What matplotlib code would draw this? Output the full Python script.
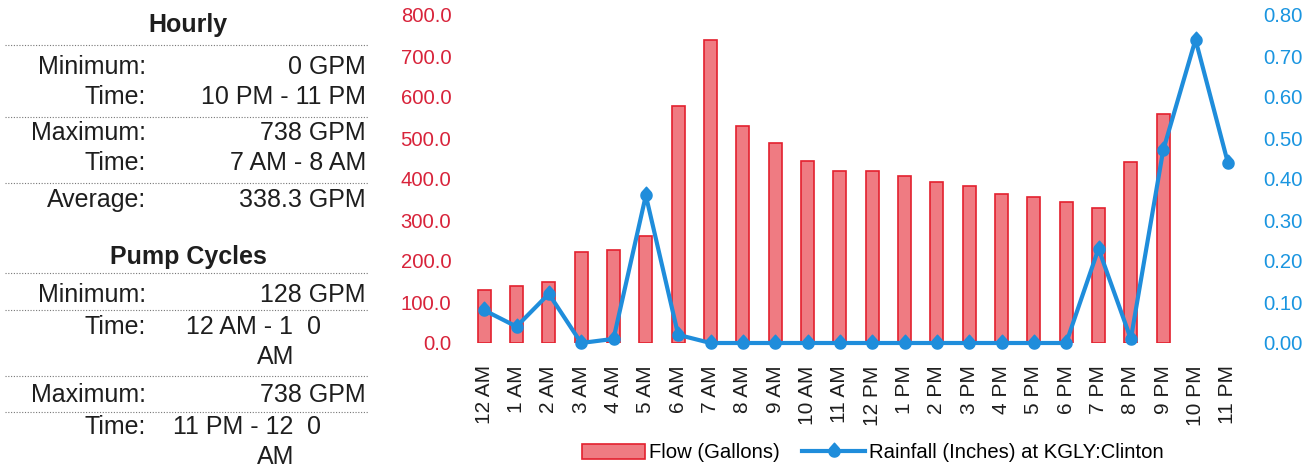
import matplotlib
matplotlib.use("Agg")
import matplotlib.pyplot as plt
from matplotlib.path import Path
import numpy as np

plt.rcParams['font.family'] = ['Liberation Sans', 'DejaVu Sans']

hours = ["12 AM", "1 AM", "2 AM", "3 AM", "4 AM", "5 AM", "6 AM", "7 AM", "8 AM",
         "9 AM", "10 AM", "11 AM", "12 PM", "1 PM", "2 PM", "3 PM", "4 PM", "5 PM",
         "6 PM", "7 PM", "8 PM", "9 PM", "10 PM", "11 PM"]
flow = [130, 140, 148, 222, 228, 262, 578, 740, 530, 488, 445, 420,
        420, 408, 392, 382, 363, 357, 343, 330, 442, 558, 0, 0]
rain = [0.08, 0.04, 0.12, 0.00, 0.01, 0.36, 0.02, 0.00, 0.00, 0.00, 0.00, 0.00,
        0.00, 0.00, 0.00, 0.00, 0.00, 0.00, 0.00, 0.23, 0.01, 0.47, 0.74, 0.44]
left_ticks = [0, 100, 200, 300, 400, 500, 600, 700, 800]
right_ticks = [0.0, 0.1, 0.2, 0.3, 0.4, 0.5, 0.6, 0.7, 0.8]

hourly_rows = [("Minimum:", "0 GPM"), ("Time:", "10 PM - 11 PM"),
               ("Maximum:", "738 GPM"), ("Time:", "7 AM - 8 AM"),
               ("Average:", "338.3 GPM")]

RED_TXT = '#d8233a'
BLUE_TXT = '#1a95e0'
BAR_FACE = '#ef7b82'
BAR_EDGE = '#e3202e'
LINE_C = '#1f8ddb'
TXT = '#1e1e1e'

W, H = 1314, 470
fig = plt.figure(figsize=(W / 100, H / 100), dpi=100)

def fx(px):
    return px / W

def fy(py):
    return 1 - py / H

# teardrop marker shape (point at top)
tip = 1.5
a0 = np.arcsin(1 / tip)
th = np.linspace(a0, -np.pi - a0, 40)
verts = np.vstack([np.column_stack([np.cos(th), np.sin(th)]), [[0, tip]], [[np.cos(a0), np.sin(a0)]]])
drop = Path(verts, closed=True)

ax = fig.add_axes([fx(468), fy(343), fx(1244) - fx(468), fy(15) - fy(343)])
x = np.arange(len(hours))
lw = [1.2 if v > 0 else 0 for v in flow]
bars = ax.bar(x, flow, width=0.4, color=BAR_FACE, edgecolor=BAR_EDGE, linewidth=lw,
              label="Flow (Gallons)")
ax.set_xlim(-0.5, len(hours) - 0.5)
ax.set_ylim(0, 800)
ax.set_yticks(left_ticks)
ax.set_yticklabels([f"{v:.1f}" for v in left_ticks])
ax.set_xticks(x)
ax.set_xticklabels(hours, rotation=90)
ax.tick_params(axis='y', length=0, pad=12, labelsize=14.6, labelcolor=RED_TXT)
ax.tick_params(axis='x', length=0, pad=16, labelsize=15, labelcolor=TXT)
for s in ax.spines.values():
    s.set_visible(False)

ax2 = ax.twinx()
line, = ax2.plot(x, rain, color=LINE_C, linewidth=3, marker=drop, markersize=12,
                 label="Rainfall (Inches) at KGLY:Clinton", clip_on=False)
ax2.set_ylim(0, 0.8)
ax2.set_yticks(right_ticks)
ax2.set_yticklabels([f"{v:.2f}" for v in right_ticks])
ax2.tick_params(axis='y', length=0, pad=14, labelsize=14.6, labelcolor=BLUE_TXT)
for s in ax2.spines.values():
    s.set_visible(False)

fig.legend(handles=[bars, line], loc='center', bbox_to_anchor=(fx(873), fy(453)),
           ncol=2, frameon=False, fontsize=14.6, handlelength=3.1, handleheight=0.8,
           handletextpad=0.2, columnspacing=1.1)

# Left summary panel
FS = 18
LBL_X = 146
VAL_X = 366

def dotted(py):
    fig.add_artist(plt.Line2D([fx(5), fx(368)], [fy(py), fy(py)], color='#777777',
                              linewidth=0.8, linestyle=(0, (1, 1.5))))

def txt(px, py, s, ha, bold=False):
    fig.text(fx(px), fy(py), s, ha=ha, va='center', fontsize=FS, color=TXT,
             fontweight='bold' if bold else 'normal')

txt(188, 25, "Hourly", 'center', bold=True)
dotted(45)
row_y = [67, 97, 133, 163, 200]
for (lab, val), yy in zip(hourly_rows, row_y):
    txt(LBL_X, yy, lab, 'right')
    txt(VAL_X, yy, val, 'right')
dotted(117)
dotted(183)

txt(188, 257, "Pump Cycles", 'center', bold=True)
dotted(273)
txt(LBL_X, 295, "Minimum:", 'right')
txt(VAL_X, 295, "128 GPM", 'right')
dotted(310)
txt(LBL_X, 327, "Time:", 'right')
txt(293, 327, "12 AM - 1", 'right')
txt(307, 327, "0", 'left')
txt(257, 357, "AM", 'left')
dotted(376)
txt(LBL_X, 395, "Maximum:", 'right')
txt(VAL_X, 395, "738 GPM", 'right')
dotted(412)
txt(LBL_X, 427, "Time:", 'right')
txt(293, 427, "11 PM - 12", 'right')
txt(307, 427, "0", 'left')
txt(257, 457, "AM", 'left')

fig.savefig("out.png", dpi=100)
